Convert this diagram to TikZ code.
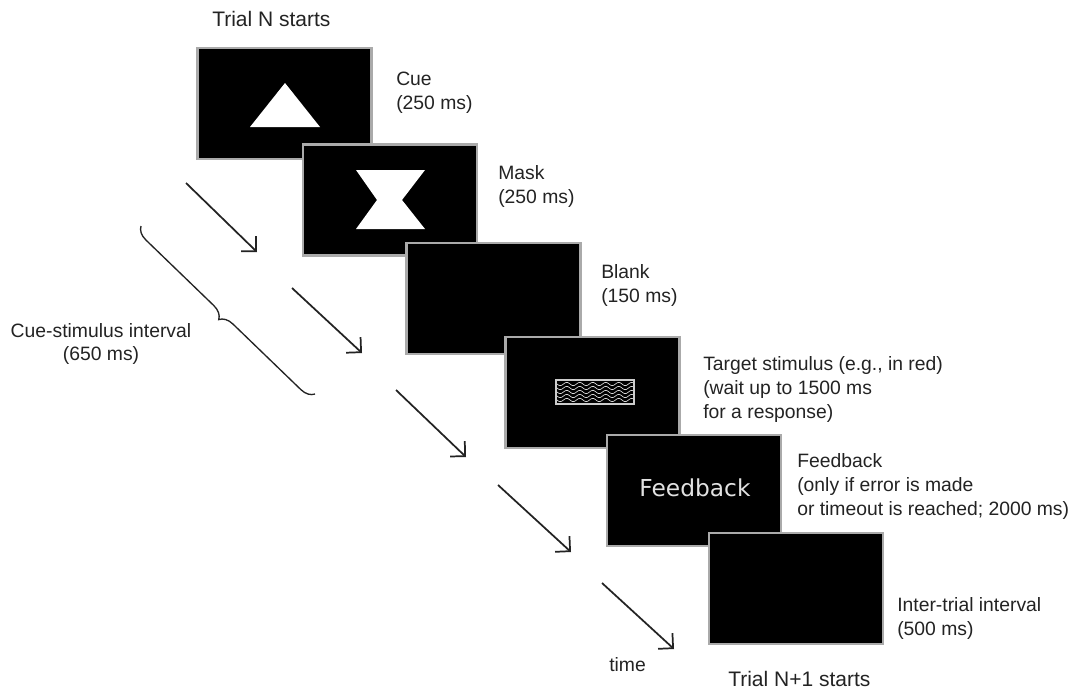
\documentclass[tikz,border=0pt]{standalone}
\usepackage{fontspec}
\setmainfont{Liberation Sans}
\newfontfamily\dejavu{DejaVu Sans}
\usetikzlibrary{arrows.meta,decorations.pathreplacing}
\definecolor{txt}{RGB}{35,35,35}
\definecolor{frame}{RGB}{170,170,170}
\definecolor{fbtext}{RGB}{225,225,225}
\begin{document}
\begin{tikzpicture}[x=0.75pt,y=-0.75pt,
  screen/.style={draw=frame,fill=black,line width=1.8pt,minimum width=130.5pt,minimum height=83.25pt,inner sep=0pt,outer sep=0pt},
  lbl/.style={anchor=base west,align=left,inner sep=0pt,text=txt,font=\fontsize{14.5}{18}\selectfont},
  ttl/.style={anchor=base west,inner sep=0pt,text=txt,font=\fontsize{15.75}{19}\selectfont},
  tarrow/.style={draw=txt,line width=1.3pt,-{Straight Barb[length=8pt,width=16pt,line width=1.3pt]}},
  wave/.style={draw=white!85!black,line width=0.5pt},
]
\useasboundingbox (0,0) rectangle (1075,689);
\fill[white] (0,0) rectangle (1075,689);

% screens
\node[screen] (s1) at (284.5,103.5) {};
\fill[white] (250,127) -- (320,127) -- (285,83) -- cycle;
\node[screen] (s2) at (390,200) {};
\fill[white] (356,170) -- (425,170) -- (402,200) -- (425,229) -- (356,229) -- (377,200) -- cycle;
\node[screen] (s3) at (493.5,298.5) {};
\node[screen] (s4) at (592.5,392.5) {};
\node[draw=white!80!black,line width=0.8pt,minimum width=58.5pt,minimum height=18pt,inner sep=0pt] (stim) at (595,392) {};
\begin{scope}
  \clip (557,381) rectangle (633,403);
  \foreach \yy in {384,388,392,396,400}{
    \draw[wave] plot[domain=557:633,samples=80] (\x,{\yy+1.6*sin((\x-557)*27.7)});
  }
\end{scope}
\node[screen] (s5) at (694,490.5) {};
\node[anchor=base,inner sep=0pt,text=fbtext,font=\dejavu\fontsize{17.5}{20}\selectfont] (fb) at (695,496) {Feedback};
\node[screen] (s6) at (796,588.5) {};

% labels (anchor = baseline of the last line)
\node[ttl] (t1) at (212,26) {Trial N starts};
\node[lbl] (l1) at (396,109) {Cue\\(250 ms)};
\node[lbl] (l2) at (498,203) {Mask\\(250 ms)};
\node[lbl] (l3) at (601,302) {Blank\\(150 ms)};
\node[lbl] (l4) at (703,418) {Target stimulus (e.g., in red)\\(wait up to 1500 ms\\for a response)};
\node[lbl] (l5) at (797,515) {Feedback\\(only if error is made\\or timeout is reached; 2000 ms)};
\node[lbl] (l6) at (897,635) {Inter-trial interval\\(500 ms)};
\node[ttl] (t2) at (728,686) {Trial N+1 starts};
\node[anchor=base,align=center,inner sep=0pt,text=txt,font=\fontsize{14.5}{17.25}\selectfont] (csi) at (101,360) {Cue-stimulus interval\\(650 ms)};
\node[lbl] (tm) at (609,671) {time};

% arrows
\coordinate (a1s) at (186,183); \coordinate (a1e) at (257,252);
\coordinate (a2s) at (292,288); \coordinate (a2e) at (362,353);
\coordinate (a3s) at (396,390); \coordinate (a3e) at (466,457);
\coordinate (a4s) at (498,485); \coordinate (a4e) at (571,552);
\coordinate (a5s) at (602,583); \coordinate (a5e) at (674,649);
\foreach \i in {1,...,5}{\draw[tarrow] (a\i s) -- (a\i e);}

% brace
\coordinate (b1) at (141,226);
\coordinate (b2) at (315,394);
\draw[txt,line width=1pt,decorate,decoration={brace,mirror,amplitude=10pt}] (b1) -- (b2);
\end{tikzpicture}
\end{document}
